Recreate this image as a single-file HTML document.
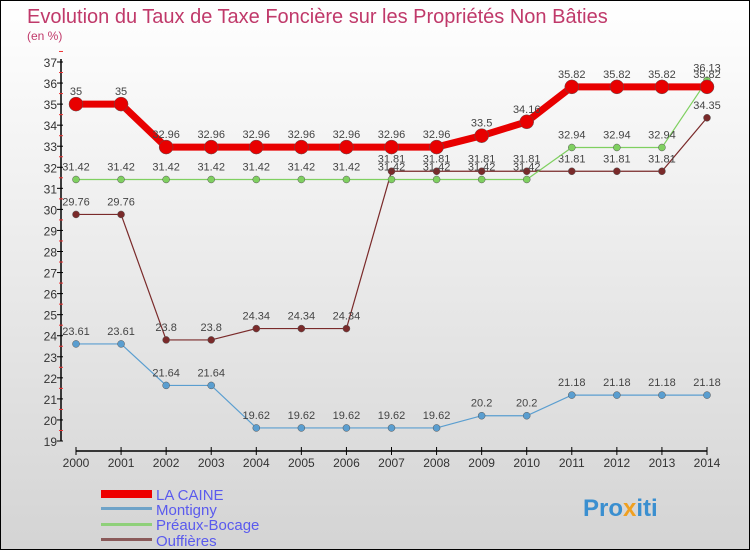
<!DOCTYPE html>
<html><head><meta charset="utf-8"><style>
body{margin:0}
#wrap{width:748px;height:548px;border:1px solid #000;background:linear-gradient(#fff,#d4d4d4);position:relative;font-family:"Liberation Sans",sans-serif;overflow:hidden}
</style></head><body>
<div id="wrap">
<svg id="svg" width="748" height="548" xmlns="http://www.w3.org/2000/svg">
<text x="26" y="22" font-size="20" fill="#c0396a">Evolution du Taux de Taxe Foncière sur les Propriétés Non Bâties</text>
<text x="26" y="39" font-size="12" fill="#c0396a">(en %)</text>
<g id="axes"></g><g id="series"></g>
<g>
<rect x="100" y="489" width="51" height="8" fill="#e00"/>
<text x="155" y="499" font-size="15" fill="#5a5aee">LA CAINE</text>
<rect x="100" y="506" width="51" height="3" fill="#6fa3c8"/>
<text x="155" y="514" font-size="15" fill="#5a5aee">Montigny</text>
<rect x="100" y="522" width="51" height="3" fill="#8fd07a"/>
<text x="155" y="529" font-size="15" fill="#5a5aee">Préaux-Bocage</text>
<rect x="100" y="537" width="51" height="3" fill="#8a5a5a"/>
<text x="155" y="545" font-size="15" fill="#5a5aee">Ouffières</text>
</g>
<text x="582" y="515" font-size="24" font-weight="bold" fill="#3a8fd0">Pro<tspan fill="#f0a020">x</tspan>iti</text>
</svg>
</div>
<script>
const years=[2000,2001,2002,2003,2004,2005,2006,2007,2008,2009,2010,2011,2012,2013,2014];
const yTicks=[19,20,21,22,23,24,25,26,27,28,29,30,31,32,33,34,35,36,37];
const laCaine=[35,35,32.96,32.96,32.96,32.96,32.96,32.96,32.96,33.5,34.16,35.82,35.82,35.82,35.82];
const montigny=[23.61,23.61,21.64,21.64,19.62,19.62,19.62,19.62,19.62,20.2,20.2,21.18,21.18,21.18,21.18];
const preaux=[31.42,31.42,31.42,31.42,31.42,31.42,31.42,31.42,31.42,31.42,31.42,32.94,32.94,32.94,36.13];
const ouffieres=[29.76,29.76,23.8,23.8,24.34,24.34,24.34,31.81,31.81,31.81,31.81,31.81,31.81,31.81,34.35];
const NS="http://www.w3.org/2000/svg";
const x=i=>75+i*(706-75)/(years.length-1);
const y=v=>440-(v-19)*(440-61)/18;
function mk(t,a,p){const e=document.createElementNS(NS,t);for(const k in a)e.setAttribute(k,a[k]);p.appendChild(e);return e;}
const ax=document.getElementById('axes');
let l=mk('line',{x1:60,y1:58,x2:60,y2:440,stroke:'#000','stroke-width':1.5},ax);


yTicks.forEach(v=>{
 mk('line',{x1:56,x2:62,y1:y(v),y2:y(v),stroke:'#000'},ax);
 mk('line',{x1:58,x2:62,y1:y(v+0.5),y2:y(v+0.5),stroke:'#e33'},ax);
 const t=mk('text',{x:56,y:y(v)+5,'text-anchor':'end','font-size':12,fill:'#333'},ax);
 t.textContent=v;
 
 
});
l=mk('line',{x1:75,y1:450,x2:706,y2:450,stroke:'#000','stroke-width':1.5},ax);


years.forEach((yr,i)=>{
 mk('line',{x1:x(i),x2:x(i),y1:446,y2:454,stroke:'#000'},ax);
 const t=mk('text',{x:x(i),y:466,'text-anchor':'middle','font-size':12,fill:'#333'},ax);
 t.textContent=yr;
 
 
});
const sg=document.getElementById('series');
function series(data,name,color,w,r){
 const g=mk('g',{},sg);
 
 
 const pl=mk('polyline',{points:data.map((v,i)=>x(i)+','+y(v)).join(' '),fill:'none',stroke:color,'stroke-width':w},g);
 
 
 data.forEach((v,i)=>{
  const c=mk('circle',{cx:x(i),cy:y(v),r:r,fill:color,stroke:'#555','stroke-width':0.5},g);
  
  
  const t=mk('text',{x:x(i),y:y(v)-9,'text-anchor':'middle','font-size':11,fill:'#444'},g);
  t.textContent=String(v).replace('.','.');
  
  
 });
}
series(montigny,'montigny','#5a9ed0',1.2,3.5);
series(ouffieres,'ouffieres','#7a2a2a',1.2,3.5);
series(preaux,'preaux-bocage','#7fd060',1.2,3.5);
series(laCaine,'la-caine','#e80000',7,7);
</script>
</body></html>
